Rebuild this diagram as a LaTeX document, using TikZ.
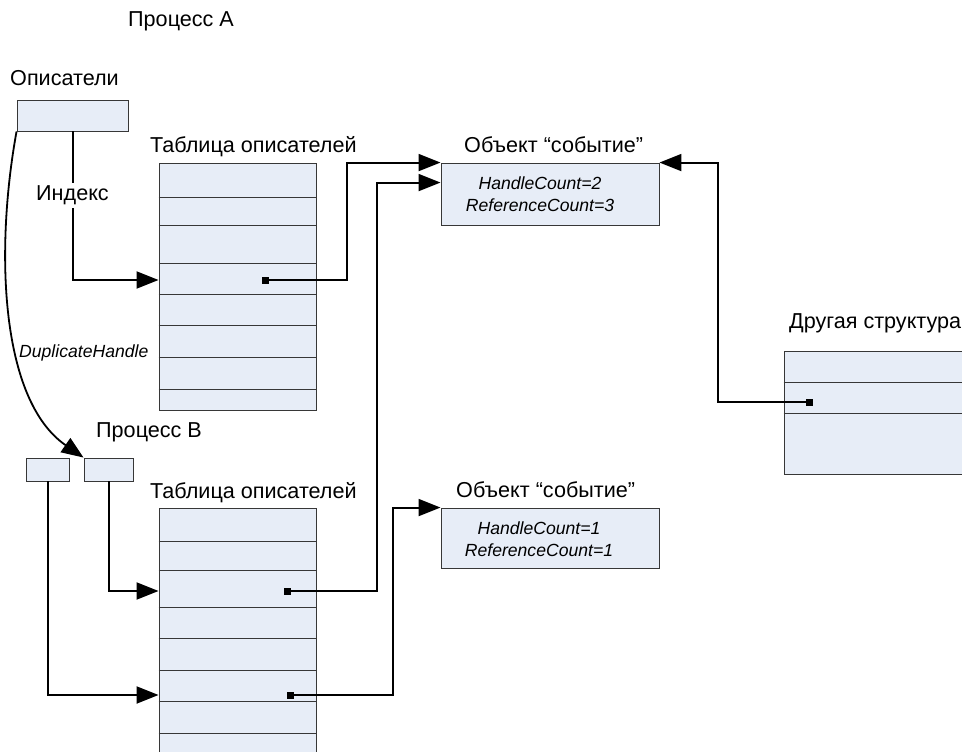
\documentclass[tikz,border=0pt]{standalone}
\usepackage{fontspec}
\setmainfont{Liberation Sans}
\usetikzlibrary{arrows.meta,calc}
\definecolor{boxfill}{RGB}{231,237,247}
\definecolor{boxline}{RGB}{55,55,55}
\begin{document}
\begin{tikzpicture}[x=1pt,y=-1pt,
  box/.style={draw=boxline, fill=boxfill, line width=0.9pt, inner sep=0pt, rectangle},
  rowline/.style={draw=boxline, line width=0.9pt},
  conn/.style={draw=black, line width=2pt},
  arr/.style={conn, -{Triangle[length=22pt,width=17pt]}},
  lbl/.style={inner sep=0pt, font=\fontsize{21.6}{25}\selectfont, anchor=base west},
  small/.style={font=\fontsize{17.6}{22}\selectfont\itshape, align=center, inner sep=0pt},
  dot/.style={fill=black, minimum size=7pt, inner sep=0pt, rectangle}]
\useasboundingbox (0,0) rectangle (962,752);
\clip (0,0) rectangle (962,752);
\fill[white] (0,0) rectangle (962,752);

% boxes
\node[box, minimum width=111pt, minimum height=31pt] (hA) at (72.5,115.5) {};
\node[box, minimum width=157pt, minimum height=247pt] (tA) at (237.5,286.5) {};
\node[box, minimum width=157pt, minimum height=282pt] (tB) at (237.5,649) {};
\node[box, minimum width=218pt, minimum height=62pt] (oA) at (550,194) {};
\node[box, minimum width=218pt, minimum height=60pt] (oB) at (550,538) {};
\node[box, minimum width=216pt, minimum height=123pt] (os) at (892,412.5) {};
\node[box, minimum width=43pt, minimum height=23pt] (pB1) at (47.5,469.5) {};
\node[box, minimum width=49pt, minimum height=23pt] (pB2) at (108.5,469.5) {};

% table rows
\foreach \yy in {197,225,263,294,325,357,389}
  \draw[rowline] (tA.west |- 0,\yy) -- (tA.east |- 0,\yy);
\foreach \yy in {541,570,607,638,670,701,733}
  \draw[rowline] (tB.west |- 0,\yy) -- (tB.east |- 0,\yy);
\foreach \yy in {382,413}
  \draw[rowline] (os.west |- 0,\yy) -- (os.east |- 0,\yy);

% object texts
\node[small] (oAtxt) at (540,194) {HandleCount=2\\ReferenceCount=3};
\node[small] (oBtxt) at (539,539) {HandleCount=1\\ReferenceCount=1};

% labels
\node[lbl] (tPA) at (128,27) {Процесс А};
\node[lbl] (tDesc) at (10,86) {Описатели};
\node[lbl] (tTA) at (150,152) {Таблица описателей};
\node[lbl] (tOA) at (464,153) {Объект “событие”};
\node[lbl] (tOther) at (789,328) {Другая структура};
\node[lbl] (tPB) at (96,437) {Процесс В};
\node[lbl] (tTB) at (150,498) {Таблица описателей};
\node[lbl] (tOB) at (456,497) {Объект “событие”};
\node[small, anchor=base west] (tDup) at (19,357) {DuplicateHandle};

% dots
\node[dot] (dA) at (265,280) {};
\node[dot] (dB1) at (287,591) {};
\node[dot] (dB2) at (290,695) {};
\node[dot] (dO) at (809,402) {};

% connectors
\draw[arr] (hA.south) |- (tA.west |- dA)
  node[pos=0.215, fill=white, inner sep=3pt, font=\fontsize{21.6}{25}\selectfont] (tIdx) {Индекс};
\draw[arr] (dA.center) -- ++(82,0) |- (oA.north west);
\draw[arr] (dB1.center) -- ++(90,0) |- ($(oA.north west)+(0,20)$);
\draw[arr] (dB2.center) -- ++(103,0) |- (oB.north west);
\draw[arr] (dO.center) -- ++(-91,0) |- (oA.north east);
\draw[arr] (pB2.south) |- (tB.west |- dB1);
\draw[arr] (pB1.south) |- (tB.west |- dB2);
\draw[arr, line width=1.8pt] (hA.south west) .. controls (-5,250) and (0,400) .. (pB2.north west);
\end{tikzpicture}
\end{document}
